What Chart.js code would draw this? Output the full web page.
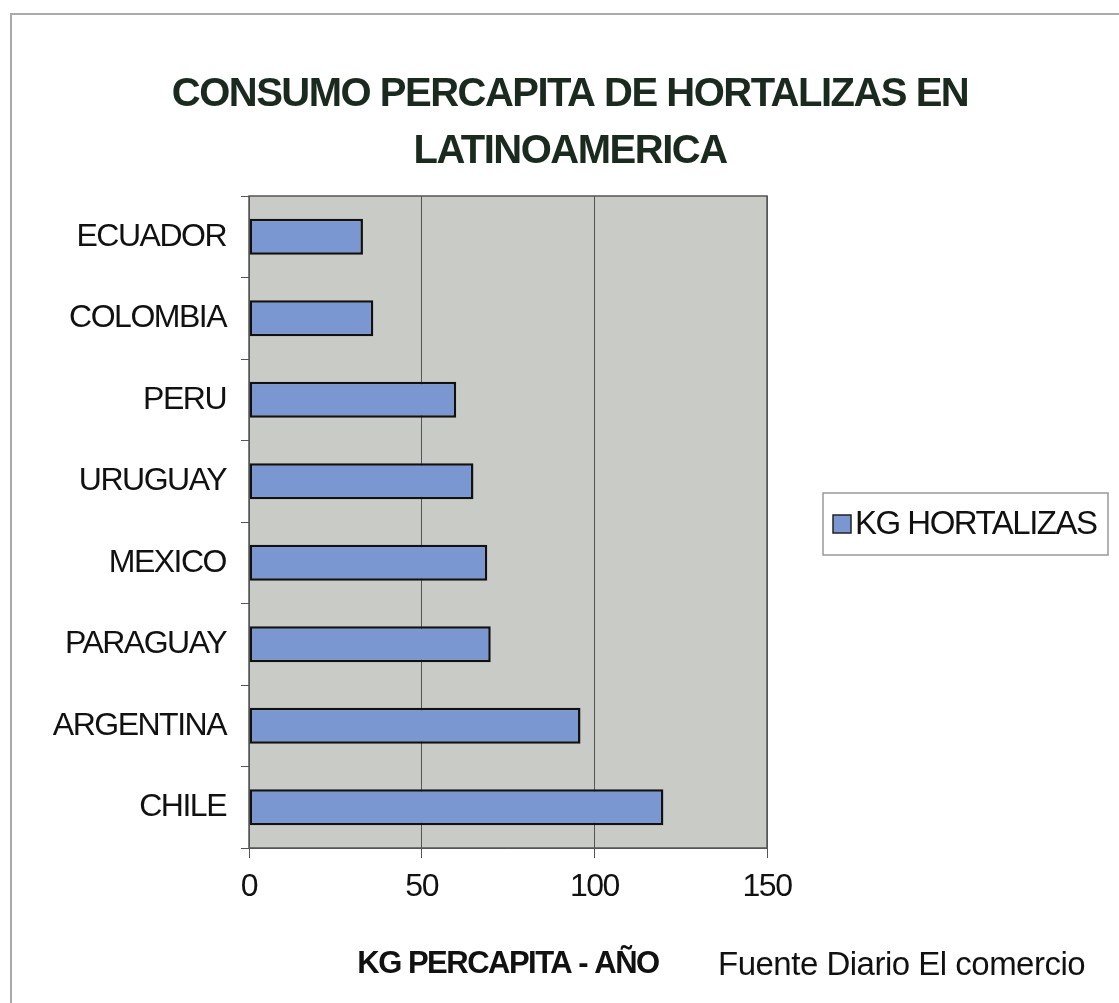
<!DOCTYPE html>
<html>
<head>
<meta charset="utf-8">
<script src="https://cdn.jsdelivr.net/npm/chart.js@4"></script>
<style>
  html, body { margin: 0; padding: 0; background: #fff; overflow: hidden; }
  #wrap { position: relative; width: 1119px; height: 1003px; }
</style>
</head>
<body>
<div id="wrap"><canvas id="chart"></canvas></div>
<script>
// data
const countries = ['ECUADOR', 'COLOMBIA', 'PERU', 'URUGUAY', 'MEXICO', 'PARAGUAY', 'ARGENTINA', 'CHILE'];
const kgHortalizas = [33, 36, 60, 65, 69, 70, 96, 120];
const xTicks = [0, 50, 100, 150];
const seriesLabel = 'KG HORTALIZAS';
const titleLines = ['CONSUMO PERCAPITA DE HORTALIZAS EN', 'LATINOAMERICA'];
const xTitle = 'KG PERCAPITA - AÑO';
const sourceNote = 'Fuente Diario El comercio';

const FONT = "'Liberation Sans', Arial, sans-serif";
const BAR_FILL = '#7b97d1';

// Excel-like frame, plot background, legend box and source note
const decor = {
  id: 'decor',
  beforeDraw(chart) {
    const { ctx, chartArea: a } = chart;
    ctx.save();
    ctx.fillStyle = '#c9cbc7';
    ctx.fillRect(a.left, a.top, a.right - a.left, a.bottom - a.top);
    ctx.restore();
    // squeeze all text a bit, like the original
    ctx.letterSpacing = '-1.5px';
  },
  afterDraw(chart) {
    const { ctx, chartArea: a } = chart;
    ctx.save();
    ctx.strokeStyle = '#555';
    ctx.lineWidth = 1.5;
    ctx.strokeRect(a.left, a.top, a.right - a.left, a.bottom - a.top);

    // outer frame
    ctx.strokeStyle = '#aaa';
    ctx.lineWidth = 2;
    ctx.beginPath();
    ctx.moveTo(11, 1003);
    ctx.lineTo(11, 14);
    ctx.lineTo(1119, 14);
    ctx.stroke();

    // legend
    ctx.strokeStyle = '#999';
    ctx.lineWidth = 1.5;
    ctx.strokeRect(823, 493, 285, 62);
    ctx.fillStyle = BAR_FILL;
    ctx.fillRect(833, 515, 18, 18);
    ctx.strokeStyle = '#222';
    ctx.strokeRect(833, 515, 18, 18);
    ctx.letterSpacing = '-1.5px';
    ctx.fillStyle = '#111';
    ctx.font = '33px ' + FONT;
    ctx.textBaseline = 'middle';
    ctx.textAlign = 'left';
    ctx.fillText(chart.data.datasets[0].label, 855, 525);

    // source
    ctx.letterSpacing = '-0.5px';
    ctx.font = '33px ' + FONT;
    ctx.fillText(sourceNote, 718, 966);
    ctx.restore();
  }
};

new Chart(document.getElementById('chart'), {
  type: 'bar',
  data: {
    labels: countries,
    datasets: [{
      label: seriesLabel,
      data: kgHortalizas,
      backgroundColor: BAR_FILL,
      borderColor: '#111',
      borderWidth: 2.5,
      borderSkipped: false,
      categoryPercentage: 1,
      barPercentage: 0.44
    }]
  },
  options: {
    indexAxis: 'y',
    responsive: true,
    maintainAspectRatio: false,
    animation: false,
    layout: { padding: { left: 21, right: 0, top: 0, bottom: 20 } },
    plugins: {
      legend: { display: false },
      tooltip: { enabled: false },
      title: {
        display: true,
        text: titleLines,
        color: '#1b2a1f',
        font: { family: FONT, size: 40, weight: 'bold', lineHeight: 1.425 },
        padding: { top: 66, bottom: 16 }
      }
    },
    scales: {
      x: {
        type: 'linear',
        position: 'bottom',
        min: xTicks[0],
        max: xTicks[xTicks.length - 1],
        afterBuildTicks: s => { s.ticks = xTicks.map(v => ({ value: v })); },
        grid: { color: '#555', lineWidth: 1, drawTicks: true, tickLength: 10 },
        border: { display: true, color: '#555' },
        ticks: { color: '#111', padding: 10, font: { family: FONT, size: 32 } },
        title: {
          display: true,
          text: xTitle,
          color: '#111',
          font: { family: FONT, size: 31, weight: 'bold', lineHeight: 1.2 },
          padding: { top: 0, bottom: 0 }
        },
        afterFit: s => { s.height = 135; }
      },
      y: {
        type: 'category',
        position: 'left',
        grid: { offset: true, drawOnChartArea: false, drawTicks: true, tickLength: 8, color: '#555' },
        border: { display: true, color: '#555' },
        ticks: { color: '#111', padding: 15, font: { family: FONT, size: 32 } },
        afterFit: s => { s.width = 228; }
      },
      // empty right-hand axis reserving the room where the legend sits
      side: {
        type: 'category',
        axis: 'y',
        position: 'right',
        grid: { display: false },
        border: { display: false },
        ticks: { display: false },
        afterFit: s => { s.width = 352; }
      }
    }
  },
  plugins: [decor]
});
</script>
</body>
</html>
